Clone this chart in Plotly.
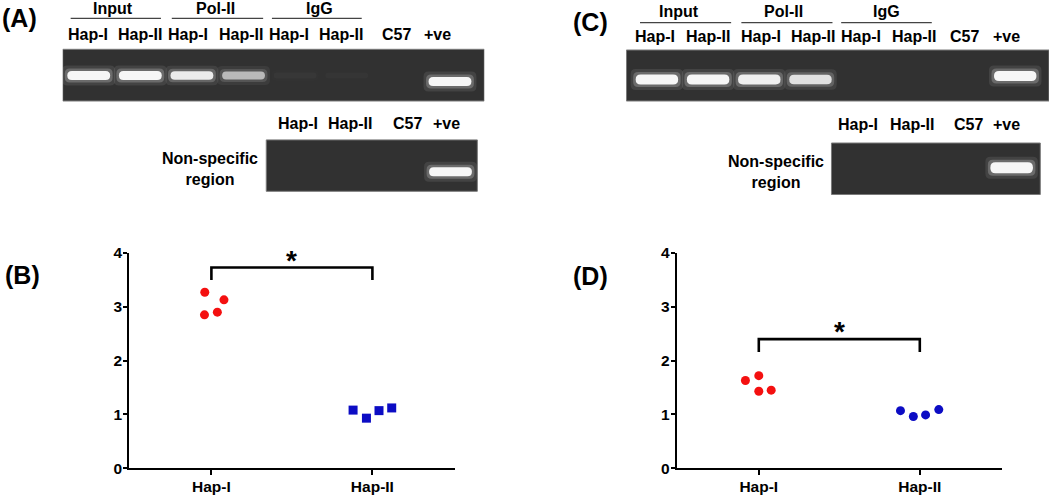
import plotly.graph_objects as go

W, H = 1050, 495
FONT = "Arial, 'Liberation Sans', sans-serif"

# ---------------- data ----------------
categories = ["Hap-I", "Hap-II"]
y_ticks = [0, 1, 2, 3, 4]

# Panel B (relative values)
B_hap1 = [3.27, 2.85, 2.90, 3.13]
B_hap2 = [1.08, 0.93, 1.07, 1.12]
# Panel D
D_hap1 = [1.63, 1.72, 1.43, 1.45]
D_hap2 = [1.07, 0.96, 0.99, 1.09]
# significance bracket levels (bar height, leg bottom)
B_bracket = [3.73, 3.50]
D_bracket = [2.40, 2.16]

# gel lane labels
gel_groups = ["Input", "Pol-II", "IgG"]
gel_top_lanes = ["Hap-I", "Hap-II", "Hap-I", "Hap-II", "Hap-I", "Hap-II", "C57", "+ve"]
gel_low_lanes = ["Hap-I", "Hap-II", "C57", "+ve"]
# band intensities (0 = no band, 1 = saturated)
A_top_bands = [1.0, 1.0, 0.92, 0.62, 0.03, 0.02, 0.0, 1.0]
A_low_bands = [0.0, 0.0, 0.0, 1.0]
C_top_bands = [1.0, 1.0, 0.95, 0.85, 0.0, 0.0, 0.0, 1.0]
C_low_bands = [0.0, 0.0, 0.0, 1.0]

# ---------------- layout helpers (positions, not data) ----------------
B_jit1 = [-0.041, -0.043, 0.037, 0.078]
B_jit2 = [-0.12, -0.037, 0.041, 0.12]
D_jit1 = [-0.083, 0.0, 0.0, 0.077]
D_jit2 = [-0.12, -0.04, 0.036, 0.118]

RED = "#f41010"
BLUE = "#0c0cc4"

fig = go.Figure()


def scatter_panel(xa, ya, v1, j1, v2, j2, sym2, bracket):
    fig.add_trace(go.Scatter(x=[0 + j for j in j1], y=v1, mode="markers",
                             marker=dict(color=RED, size=9, symbol="circle"),
                             xaxis=xa, yaxis=ya, cliponaxis=False, showlegend=False))
    fig.add_trace(go.Scatter(x=[1 + j for j in j2], y=v2, mode="markers",
                             marker=dict(color=BLUE, size=9, symbol=sym2),
                             xaxis=xa, yaxis=ya, cliponaxis=False, showlegend=False))
    top, leg = bracket
    fig.add_trace(go.Scatter(x=[0, 0, 1, 1], y=[leg, top, top, leg], mode="lines",
                             line=dict(color="black", width=2.6),
                             xaxis=xa, yaxis=ya, cliponaxis=False, showlegend=False))
    fig.add_annotation(x=0.5, y=top, xref=xa, yref=ya, text="*", showarrow=False,
                       font=dict(size=28, color="black", family=FONT, weight="bold"),
                       yanchor="bottom", yshift=-10)


scatter_panel("x", "y", B_hap1, B_jit1, B_hap2, B_jit2, "square", B_bracket)
scatter_panel("x2", "y2", D_hap1, D_jit1, D_hap2, D_jit2, "circle", D_bracket)

axis_common_x = dict(range=[-0.51, 1.51], tickvals=[0, 1], ticktext=categories,
                     showline=True, linecolor="black", linewidth=2, ticks="outside",
                     ticklen=5, tickwidth=2, tickcolor="black", showgrid=False,
                     zeroline=False, fixedrange=True, ticklabelstandoff=-2, automargin=False,
                     tickfont=dict(family=FONT, size=15.5, color="black", weight="bold"))
axis_common_y = dict(range=[0, 4], tickvals=y_ticks, showline=True, linecolor="black",
                     linewidth=2, ticks="outside", ticklen=4, tickwidth=2,
                     tickcolor="black", showgrid=False, zeroline=False, fixedrange=True,
                     ticklabelstandoff=-2, automargin=False,
                     tickfont=dict(family=FONT, size=15.5, color="black", weight="bold"))
hidden = dict(visible=False, fixedrange=True, automargin=False)

ydom = [1 - 468.2 / H, 1 - 253.0 / H]
fig.update_layout(
    xaxis=dict(domain=[129.3 / W, 454.5 / W], anchor="y", **axis_common_x),
    yaxis=dict(domain=ydom, anchor="x", **axis_common_y),
    xaxis2=dict(domain=[676.7 / W, 1001.9 / W], anchor="y2", **axis_common_x),
    yaxis2=dict(domain=ydom, anchor="x2", **axis_common_y),
    xaxis3=dict(domain=[62.7 / W, 484.3 / W], range=[-0.504, 7.665], anchor="y3", **hidden),
    yaxis3=dict(domain=[1 - 200 / H, 1], range=[200, 0], anchor="x3", **hidden),
    xaxis4=dict(domain=[626.2 / W, 1049 / W], range=[-0.6, 7.66], anchor="y4", **hidden),
    yaxis4=dict(domain=[1 - 200 / H, 1], range=[200, 0], anchor="x4", **hidden),
)

shapes = []
annots = []


def rounded(x0, x1, y0, y1, rx, ry):
    return (f"M {x0+rx},{y0} L {x1-rx},{y0} Q {x1},{y0} {x1},{y0+ry} "
            f"L {x1},{y1-ry} Q {x1},{y1} {x1-rx},{y1} L {x0+rx},{y1} "
            f"Q {x0},{y1} {x0},{y1-ry} L {x0},{y0+ry} Q {x0},{y0} {x0+rx},{y0} Z")


def gel(xa, ya, x0, x1, y0, y1, lanes_pos, intens, band_y, band_h, lane_px):
    shapes.append(dict(type="rect", xref=xa, yref=ya, x0=x0, x1=x1, y0=y0, y1=y1,
                       fillcolor="#313131", line=dict(color="#7a7a7a", width=1)))
    bw = 0.83
    for pos, v, by in zip(lanes_pos, intens, band_y):
        if v <= 0:
            continue
        h = band_h * (0.65 + 0.35 * v)
        for dpx, dh, a in [(10, 11, 0.09), (5, 5, 0.22), (0, 0, 0.97)]:
            hw = bw / 2 + dpx / lane_px / 2
            hh = h / 2 + dh / 2
            r_px = min(hh, 5)
            shapes.append(dict(type="path", xref=xa, yref=ya,
                               path=rounded(pos - hw, pos + hw, by - hh, by + hh,
                                            r_px / lane_px, r_px),
                               fillcolor="#fbfbfb", opacity=a * v, line=dict(width=0)))


def txt(xa, ya, x, y, s, size=16, **kw):
    annots.append(dict(xref=xa, yref=ya, x=x, y=y, text=s, showarrow=False,
                       font=dict(family=FONT, size=size, color="black", weight="bold"),
                       **kw))


# ---- Panel A gels ----
gel("x3", "y3", -0.504, 7.665, 49.3, 101, list(range(8)), A_top_bands,
    [75.5] * 7 + [81.5], 9, 51.6)
gel("x3", "y3", 3.44, 7.53, 139.9, 191.3, [4, 5, 6, 7.01], A_low_bands,
    [171.7] * 4, 9, 51.6)
A_top_lab_pos = [-0.02, 1.0, 1.92, 2.95, 3.88, 4.89, 5.97, 6.76]
A_low_lab_pos = [4.05, 5.06, 6.18, 6.94]
A_grp_pos = [0.48, 2.46, 4.47]
A_grp_lines = [(-0.35, 1.40), (1.61, 3.38), (3.55, 5.29)]
for p, s in zip(A_top_lab_pos, gel_top_lanes):
    txt("x3", "y3", p, 34, s)
for p, s in zip(A_low_lab_pos, gel_low_lanes):
    txt("x3", "y3", p, 123.7, s)
for p, s, (l0, l1) in zip(A_grp_pos, gel_groups, A_grp_lines):
    txt("x3", "y3", p, 8, s)
    shapes.append(dict(type="line", xref="x3", yref="y3", x0=l0, x1=l1, y0=18.3, y1=18.3,
                       line=dict(color="#444", width=1.2)))
txt("x3", "y3", 2.35, 168.5, "Non-specific<br>region", align="center")

# ---- Panel C gels ----
gel("x4", "y4", -0.6, 7.66, 50, 101, list(range(8)), C_top_bands,
    [79.5] * 7 + [76], 10, 51.2)
gel("x4", "y4", 3.41, 7.49, 143, 194.5, [4, 5, 6, 6.93], C_low_bands,
    [167.8] * 4, 11, 51.2)
C_top_lab_pos = [-0.03, 0.99, 2.03, 3.05, 3.99, 5.02, 6.01, 6.83]
C_low_lab_pos = [3.93, 4.99, 6.08, 6.83]
C_grp_pos = [0.43, 2.48, 4.49]
C_grp_lines = [(-0.33, 1.45), (1.65, 3.43), (3.60, 5.37)]
for p, s in zip(C_top_lab_pos, gel_top_lanes):
    txt("x4", "y4", p, 36, s)
for p, s in zip(C_low_lab_pos, gel_low_lanes):
    txt("x4", "y4", p, 124.3, s)
for p, s, (l0, l1) in zip(C_grp_pos, gel_groups, C_grp_lines):
    txt("x4", "y4", p, 11, s)
    shapes.append(dict(type="line", xref="x4", yref="y4", x0=l0, x1=l1, y0=22.6, y1=22.6,
                       line=dict(color="#444", width=1.2)))
txt("x4", "y4", 2.32, 171.8, "Non-specific<br>region", align="center")

# ---- panel letters ----
for s, x, y in [("(A)", 19.2, 18.3), ("(C)", 590.5, 22), ("(B)", 22.5, 275), ("(D)", 590.5, 276)]:
    annots.append(dict(xref="paper", yref="paper", x=x / W, y=1 - y / H, text=s,
                       showarrow=False, xanchor="center", yanchor="middle",
                       font=dict(family=FONT, size=25, color="black", weight="bold")))

fig.update_layout(shapes=shapes, annotations=list(fig.layout.annotations) + annots)

fig.update_layout(width=W, height=H, margin=dict(l=0, r=0, t=0, b=0, pad=0),
                  autosize=False, showlegend=False, plot_bgcolor="white",
                  paper_bgcolor="white", font=dict(family=FONT, color="black"))

fig.write_html("out.html",
               config={"displayModeBar": False, "responsive": False},
               post_script="document.body.style.margin='0';"
                           "document.body.style.overflow='hidden';"
                           "document.documentElement.style.overflow='hidden';")
